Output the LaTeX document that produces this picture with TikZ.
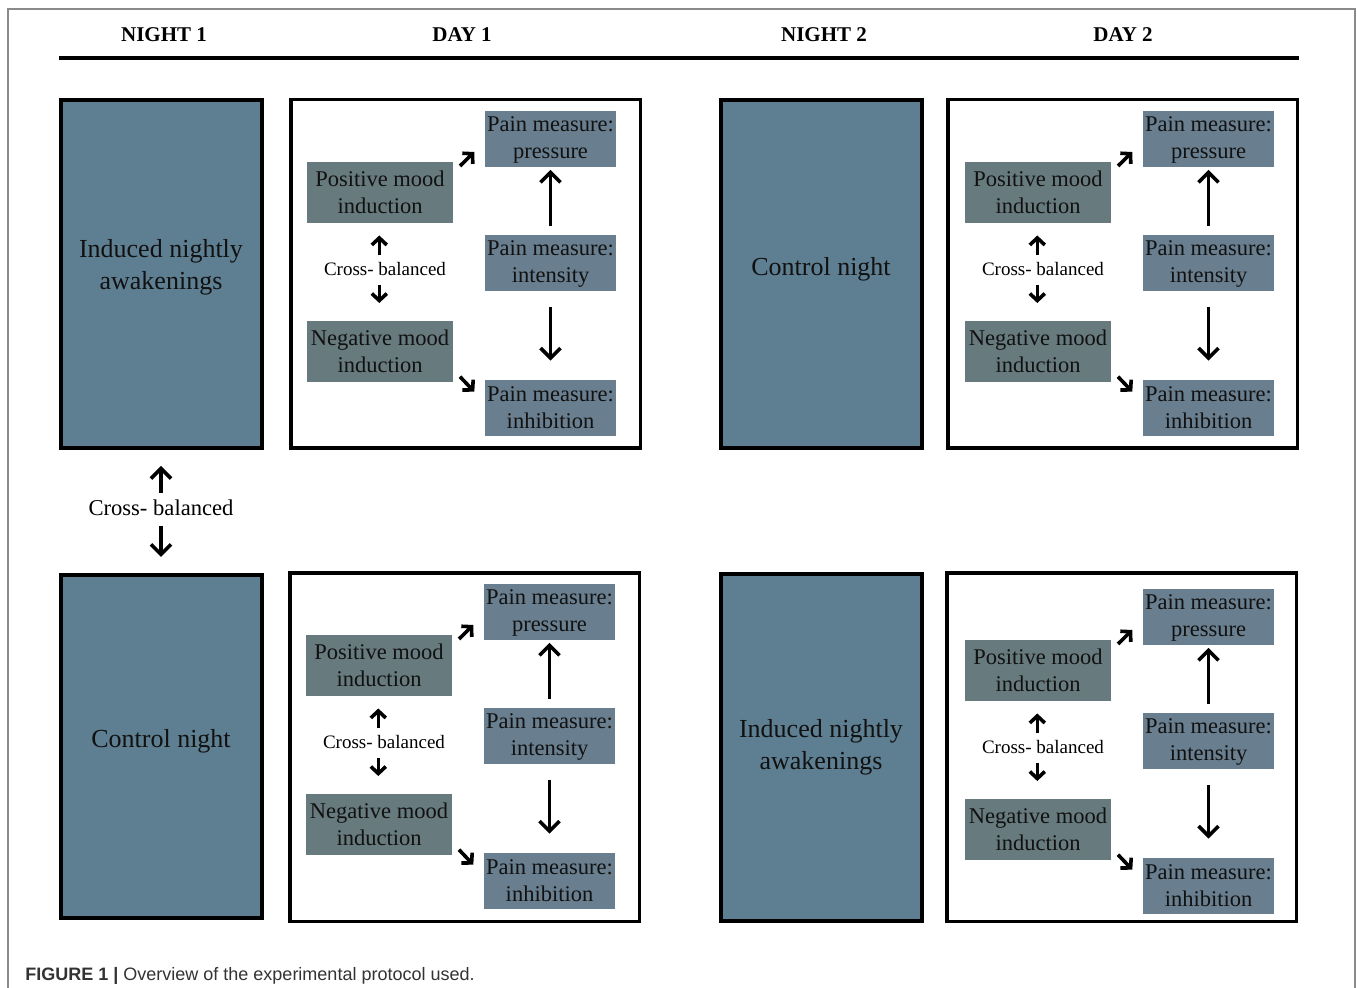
\documentclass[tikz,border=0pt]{standalone}
\usepackage{fontspec}
\setmainfont{Liberation Serif}
\newfontfamily\capfont{Liberation Sans}
\usetikzlibrary{arrows.meta}
\definecolor{nightc}{HTML}{5E7E91}
\definecolor{moodc}{HTML}{677A7D}
\definecolor{painc}{HTML}{697F8F}
\definecolor{framec}{HTML}{8A8A8A}
\definecolor{capc}{HTML}{333333}
\definecolor{txtc}{HTML}{111111}
\tikzset{
  nightbox/.style={draw=black, line width=2pt, fill=nightc, minimum width=100.5pt, minimum height=174pt, inner sep=0pt},
  nighttxt/.style={inner sep=0pt, align=center, text=txtc, font=\fontsize{13}{16}\selectfont},
  daybox/.style={draw=black, line width=1.75pt, fill=white, minimum width=174.75pt, minimum height=174.25pt, inner sep=0pt},
  moodbox/.style={fill=moodc, minimum width=73pt, minimum height=30.5pt, inner sep=0pt, align=center, text=txtc, font=\fontsize{11.25}{13.5}\selectfont},
  painbox/.style={fill=painc, minimum width=65.5pt, minimum height=28pt, inner sep=0pt, align=center, text=txtc, font=\fontsize{11.25}{13.5}\selectfont},
  crosstxt/.style={inner sep=0pt, font=\fontsize{9.5}{11}\selectfont},
  bigcross/.style={inner sep=0pt, font=\fontsize{11.3}{13}\selectfont},
  header/.style={inner sep=0pt, font=\fontsize{10.5}{12}\selectfont\bfseries},
  sarr/.style={line width=1.8pt, -{Straight Barb[length=3.5pt,width=7.5pt]}},
  barr/.style={line width=1.8pt, -{Straight Barb[length=5pt,width=10pt]}},
  framel/.style={draw=framec, line width=0.8pt},
}
% #1 prefix, #2,#3 day box centre, #4,#5 inner origin
\newcommand\daypanel[5]{%
  \node[daybox] (#1box) at (#2,#3) {};
  \begin{scope}[shift={(#4,#5)}]
    \node[moodbox] (#1pos) at (91,94.5) {Positive mood\\induction};
    \node[moodbox] (#1neg) at (91,253.5) {Negative mood\\induction};
    \node[painbox] (#1pres) at (261.5,41.5) {Pain measure:\\pressure};
    \node[painbox] (#1int) at (261.5,165.5) {Pain measure:\\intensity};
    \node[painbox] (#1inh) at (261.5,310) {Pain measure:\\inhibition};
    \node[crosstxt] (#1cb) at (96,171) {Cross- balanced};
    \coordinate (#1cu1) at (90.3,157.5);
    \coordinate (#1cu2) at (90.3,137.5);
    \coordinate (#1cd1) at (90.3,187);
    \coordinate (#1cd2) at (90.3,205);
    \coordinate (#1ne1) at (171,68);
    \coordinate (#1ne2) at (185.3,54);
    \coordinate (#1se1) at (171,278.7);
    \coordinate (#1se2) at (185.3,293.7);
  \end{scope}
  \draw[sarr] (#1cu1) -- (#1cu2);
  \draw[sarr] (#1cd1) -- (#1cd2);
  \draw[sarr] (#1ne1) -- (#1ne2);
  \draw[sarr] (#1se1) -- (#1se2);
  \draw[barr, shorten <=4.5pt, shorten >=1pt] (#1int.north) -- (#1pres.south);
  \draw[barr, shorten <=7.5pt, shorten >=9.5pt] (#1int.south) -- (#1inh.north);
}
\begin{document}
\begin{tikzpicture}[x=0.5pt,y=-0.5pt]
  \useasboundingbox (0,0) rectangle (1357,988);
  \fill[white] (0,0) rectangle (1357,988);
  \draw[framel] (8,988) -- (8,9) -- (1355,9) -- (1355,988);

  % headers
  \node[header] (hn1) at (164,35) {NIGHT 1};
  \node[header] (hd1) at (462,35) {DAY 1};
  \node[header] (hn2) at (824,35) {NIGHT 2};
  \node[header] (hd2) at (1123,35) {DAY 2};
  \draw[line width=2pt] (59,58) -- (1299,58);

  % night boxes
  \node[nightbox] (n1a) at (161.5,274) {};
  \node[nightbox] (n2a) at (821,274) {};
  \node[nightbox, minimum height=171.5pt] (n1b) at (161.5,746.5) {};
  \node[nightbox, minimum height=173.5pt] (n2b) at (821,747.5) {};
  \node[nighttxt] (n1at) at (161,267) {Induced nightly\\awakenings};
  \node[nighttxt] (n2at) at (821,269) {Control night};
  \node[nighttxt] (n1bt) at (161,741) {Control night};
  \node[nighttxt] (n2bt) at (821,747) {Induced nightly\\awakenings};

  % cross-balanced between nights
  \node[bigcross] (cbn) at (161,508) {Cross- balanced};
  \coordinate (cbu1) at (161,493);
  \coordinate (cbu2) at (161,466);
  \coordinate (cbd1) at (161,526);
  \coordinate (cbd2) at (161,557);
  \draw[barr] (cbu1) -- (cbu2);
  \draw[barr] (cbd1) -- (cbd2);

  % day panels
  \daypanel{a}{465.5}{274}{289}{98}
  \daypanel{b}{1122.5}{274}{947}{98}
  \daypanel{c}{464.5}{747.5}{288}{571}
  \daypanel{d}{1121.5}{747.5}{947}{576}

  % caption
  \node[anchor=base west, inner sep=0pt, text=capc, font=\capfont\fontsize{9}{11}\selectfont] (cap) at (25,981)
    {\textbf{FIGURE 1 |} Overview of the experimental protocol used.};
\end{tikzpicture}
\end{document}
